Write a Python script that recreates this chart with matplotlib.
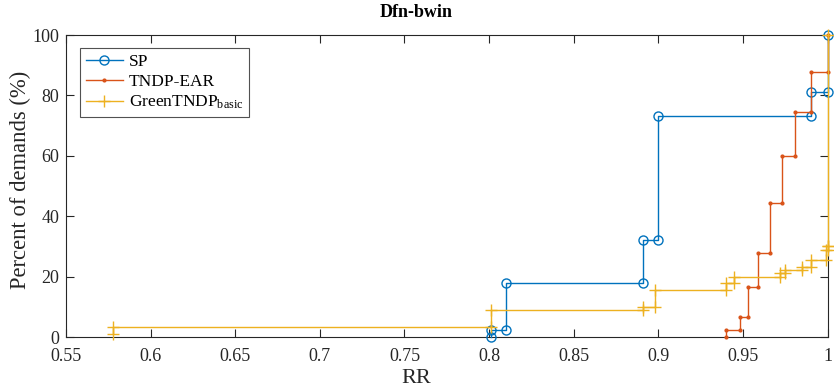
import matplotlib
matplotlib.use("Agg")
import matplotlib.pyplot as plt
import numpy as np

plt.rcParams['font.family'] = ['Liberation Serif', 'DejaVu Serif']
plt.rcParams['mathtext.fontset'] = 'custom'
plt.rcParams['mathtext.rm'] = 'Liberation Serif'
plt.rcParams['mathtext.it'] = 'Liberation Serif:italic'

# ---- data (step positions and cumulative percentages) ----
sp_x = [0.801, 0.810, 0.891, 0.900, 0.990, 1.000]
sp_y = [0.0, 2.2, 17.8, 32.2, 73.3, 81.1, 100.0]

ear_x = [0.940, 0.948, 0.953, 0.959, 0.966, 0.973, 0.981, 0.990, 1.000]
ear_y = [0.0, 2.2, 6.7, 16.7, 27.8, 44.4, 60.0, 74.4, 87.8, 100.0]

green_x = [0.578, 0.801, 0.891, 0.898, 0.940, 0.945, 0.972, 0.975, 0.985, 0.990, 0.999, 1.000, 1.000]
green_y = [1.1, 3.3, 8.9, 10.0, 15.6, 17.8, 20.0, 21.1, 22.2, 23.3, 25.6, 28.9, 30.0, 100.0]

labels = ['SP', 'TNDP-EAR', r'GreenTNDP$_{\mathrm{basic}}$']
title = 'Dfn-bwin'
xticks = [0.55, 0.6, 0.65, 0.7, 0.75, 0.8, 0.85, 0.9, 0.95, 1.0]
xticklabels = ['0.55', '0.6', '0.65', '0.7', '0.75', '0.8', '0.85', '0.9', '0.95', '1']
yticks = [0, 20, 40, 60, 80, 100]


def stair_vertices(xs, ys):
    vx, vy = [], []
    for i, x in enumerate(xs):
        vx += [x, x]
        vy += [ys[i], ys[i + 1]]
    return vx, vy


fig = plt.figure(figsize=(8.34, 3.92), dpi=100)
ax = fig.add_axes([66 / 834, 55 / 392, 761.5 / 834, 302 / 392])

c_blue = '#0072BD'
c_red = '#D95319'
c_yel = '#EDB120'

vx, vy = stair_vertices(sp_x, sp_y)
ax.plot(vx, vy, color=c_blue, lw=1.0, marker='o', ms=6.5, mfc='none', mec=c_blue,
        mew=1.0, label=labels[0], clip_on=False, zorder=3)
vx, vy = stair_vertices(ear_x, ear_y)
ax.plot(vx, vy, color=c_red, lw=1.0, marker='.', ms=4, mfc=c_red, mec=c_red,
        label=labels[1], clip_on=False, zorder=4)
vx, vy = stair_vertices(green_x, green_y)
ax.plot(vx, vy, color=c_yel, lw=1.0, marker='+', ms=9, mew=1.0,
        label=labels[2], clip_on=False, zorder=5)

ax.set_xlim(0.55, 1.0)
ax.set_ylim(0, 100)
ax.set_xticks(xticks)
ax.set_xticklabels(xticklabels)
ax.set_yticks(yticks)

for s in ax.spines.values():
    s.set_color('#262626')
    s.set_linewidth(0.8)
ax.tick_params(direction='in', length=6, width=0.8, colors='#262626',
               top=True, right=True, labelsize=13)
ax.tick_params(axis='x', pad=8)
ax.tick_params(axis='y', pad=5)
for t in ax.get_xticklabels() + ax.get_yticklabels():
    t.set_color('#262626')

xc = (416 - 66) / 761.5
ax.set_xlabel('RR', fontsize=16, color='#262626')
ax.xaxis.set_label_coords(xc, -(369 - 337) / 302)
ax.set_ylabel('Percent of demands (%)', fontsize=16.3, color='#262626')
ax.yaxis.set_label_coords(-(66 - 31) / 761.5, 0.52)
ax.set_title(title, fontsize=13, fontweight='bold', pad=13, x=xc)

leg = ax.legend(loc='upper left', bbox_to_anchor=(14 / 761.5, 1 - 13 / 302),
                borderaxespad=0, fontsize=12.5, frameon=True, fancybox=False,
                edgecolor='#262626', handlelength=2.1, handletextpad=0.35,
                labelspacing=0.22, borderpad=0.35)
leg.get_frame().set_linewidth(0.8)

fig.savefig('out.png', dpi=100, facecolor='white')
